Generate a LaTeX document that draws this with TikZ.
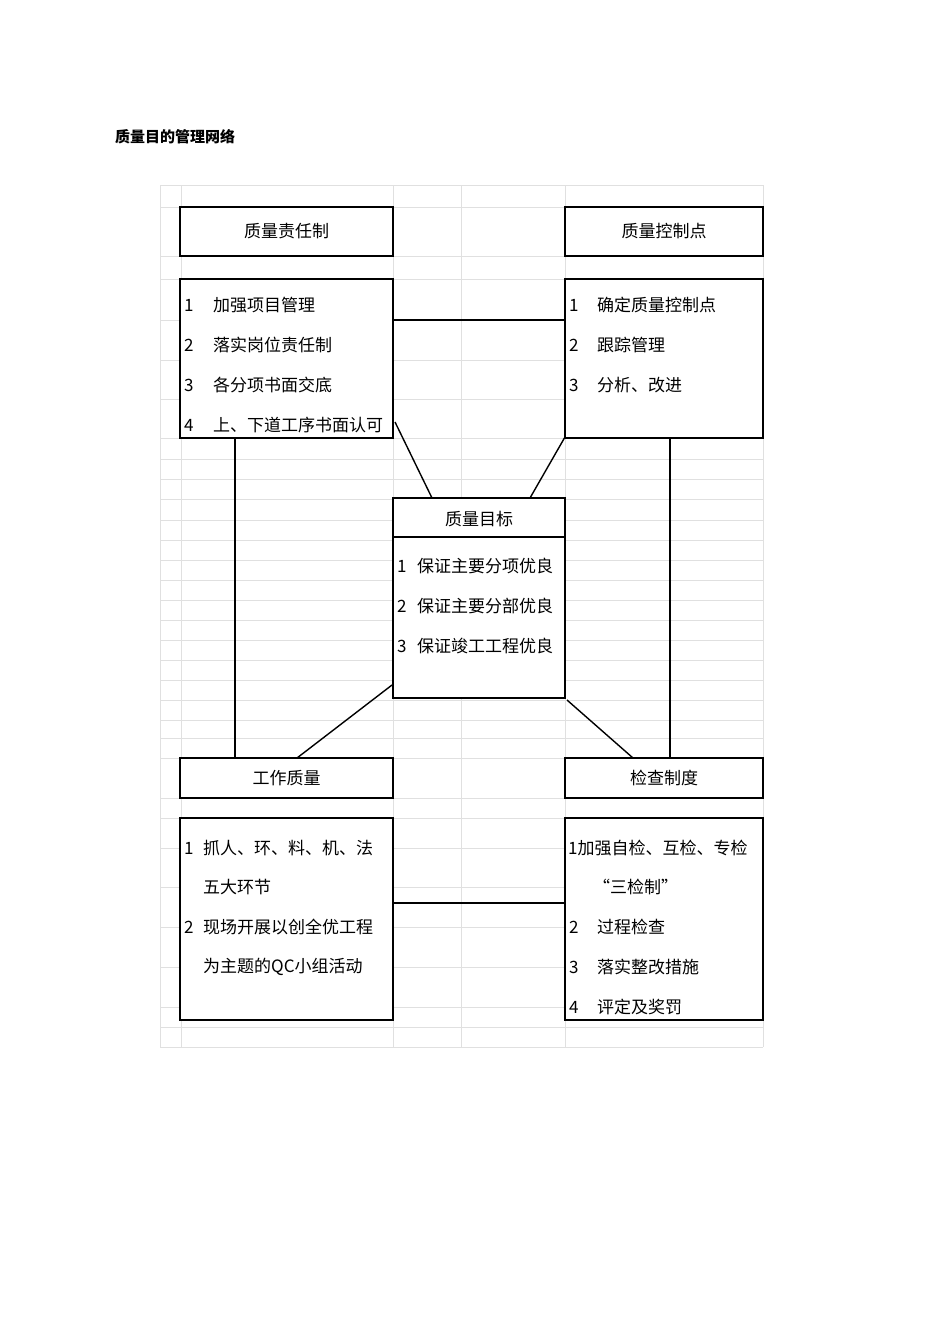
\documentclass[tikz,border=0pt]{standalone}
\usepackage{fontspec}
\newfontfamily\cjk{Noto Sans CJK SC}
\begin{document}
\begin{tikzpicture}[x=1pt,y=-1pt,
  box/.style={draw,line width=1.6pt},
  txt/.style={anchor=west,inner sep=0pt,font=\cjk\fontsize{17}{17}\selectfont},
  ln/.style={line width=1.4pt},
  grid/.style={draw=black!12,line width=0.6pt}]
\useasboundingbox (0,0) rectangle (950,1344);
% spreadsheet grid
\foreach \y in {185,207,256,279,320,360,399,438,459,479,499,520,540,560,580,600,620,640,660,680,700,720,738,758,798,818,848,887,927,967,1007,1027,1047}
  \draw[grid] (160,\y) -- (763,\y);
\foreach \x in {160,181,393,461,565,763}
  \draw[grid] (\x,185) -- (\x,1047);
\node[anchor=west,inner sep=0pt,font=\cjk\bfseries\fontsize{15}{15}\selectfont] (title) at (115,137) {质量目的管理网络};
% boxes
\draw[box,fill=white] (180,207) rectangle (393,256);
\node (a) at (286.5,231.5) [font=\cjk\fontsize{17}{17}\selectfont] {质量责任制};
\draw[box,fill=white] (565,207) rectangle (763,256);
\node (c) at (664,231.5) [font=\cjk\fontsize{17}{17}\selectfont] {质量控制点};
\coordinate (Bne) at (393,279); \coordinate (Bsw) at (180,438);
\draw[box,fill=white] (Bsw) rectangle (Bne);
\draw[box,fill=white] (565,279) rectangle (763,438);
\draw[box,fill=white] (393,498) rectangle (565,698);
\draw[box] (393,537) -- (565,537);
\draw[box,fill=white] (180,758) rectangle (393,798);
\node (f) at (286.5,778) [font=\cjk\fontsize{17}{17}\selectfont] {工作质量};
\draw[box,fill=white] (565,758) rectangle (763,798);
\node (h) at (664,778) [font=\cjk\fontsize{17}{17}\selectfont] {检查制度};
\draw[box,fill=white] (180,818) rectangle (393,1020);
\draw[box,fill=white] (565,818) rectangle (763,1020);
\node (e) at (479,519) [font=\cjk\fontsize{17}{17}\selectfont] {质量目标};
% B text
\node[txt] (b1n) at (184,305) {1}; \node[txt] (b1) at (213,305) {加强项目管理};
\node[txt] (b2n) at (184,345) {2}; \node[txt] (b2) at (213,345) {落实岗位责任制};
\node[txt] (b3n) at (184,385) {3}; \node[txt] (b3) at (213,385) {各分项书面交底};
\node[txt] (b4n) at (184,425) {4}; \node[txt] (b4) at (213,425) {上、下道工序书面认可};
% D text
\node[txt] (d1n) at (569,305) {1}; \node[txt] (d1) at (597,305) {确定质量控制点};
\node[txt] (d2n) at (569,345) {2}; \node[txt] (d2) at (597,345) {跟踪管理};
\node[txt] (d3n) at (569,385) {3}; \node[txt] (d3) at (597,385) {分析、改进};
% E text
\node[txt] (e1n) at (397,566) {1}; \node[txt] (e1) at (417,566) {保证主要分项优良};
\node[txt] (e2n) at (397,606) {2}; \node[txt] (e2) at (417,606) {保证主要分部优良};
\node[txt] (e3n) at (397,646) {3}; \node[txt] (e3) at (417,646) {保证竣工工程优良};
% G text
\node[txt] (g1n) at (184,848) {1}; \node[txt] (g1) at (203,848) {抓人、环、料、机、法};
\node[txt] (g1b) at (203,887) {五大环节};
\node[txt] (g2n) at (184,927) {2}; \node[txt] (g2) at (203,927) {现场开展以创全优工程};
\node[txt] (g2b) at (203,967) {为主题的QC小组活动};
% I text
\node[txt] (i1) at (568,848) {1加强自检、互检、专检};
\node[txt] (i1b) at (593,887) {“三检制”};
\node[txt] (i2n) at (569,927) {2}; \node[txt] (i2) at (597,927) {过程检查};
\node[txt] (i3n) at (569,967) {3}; \node[txt] (i3) at (597,967) {落实整改措施};
\node[txt] (i4n) at (569,1007) {4}; \node[txt] (i4) at (597,1007) {评定及奖罚};
% connectors
\coordinate (p1) at (393,320); \coordinate (p2) at (565,320);
\draw[ln] (p1) -- (p2);
\coordinate (p3) at (395,422); \coordinate (p4) at (432,498);
\draw[ln] (p3) -- (p4);
\coordinate (p5) at (565,437); \coordinate (p6) at (530,498);
\draw[ln] (p5) -- (p6);
\coordinate (p7) at (235,438); \coordinate (p8) at (235,758);
\draw[ln] (p7) -- (p8);
\coordinate (p9) at (670,438); \coordinate (p10) at (670,758);
\draw[ln] (p9) -- (p10);
\coordinate (p11) at (392,685); \coordinate (p12) at (297,758);
\draw[ln] (p11) -- (p12);
\coordinate (p13) at (567,700); \coordinate (p14) at (633,758);
\draw[ln] (p13) -- (p14);
\coordinate (p15) at (393,903); \coordinate (p16) at (565,903);
\draw[ln] (p15) -- (p16);
\end{tikzpicture}
\end{document}
